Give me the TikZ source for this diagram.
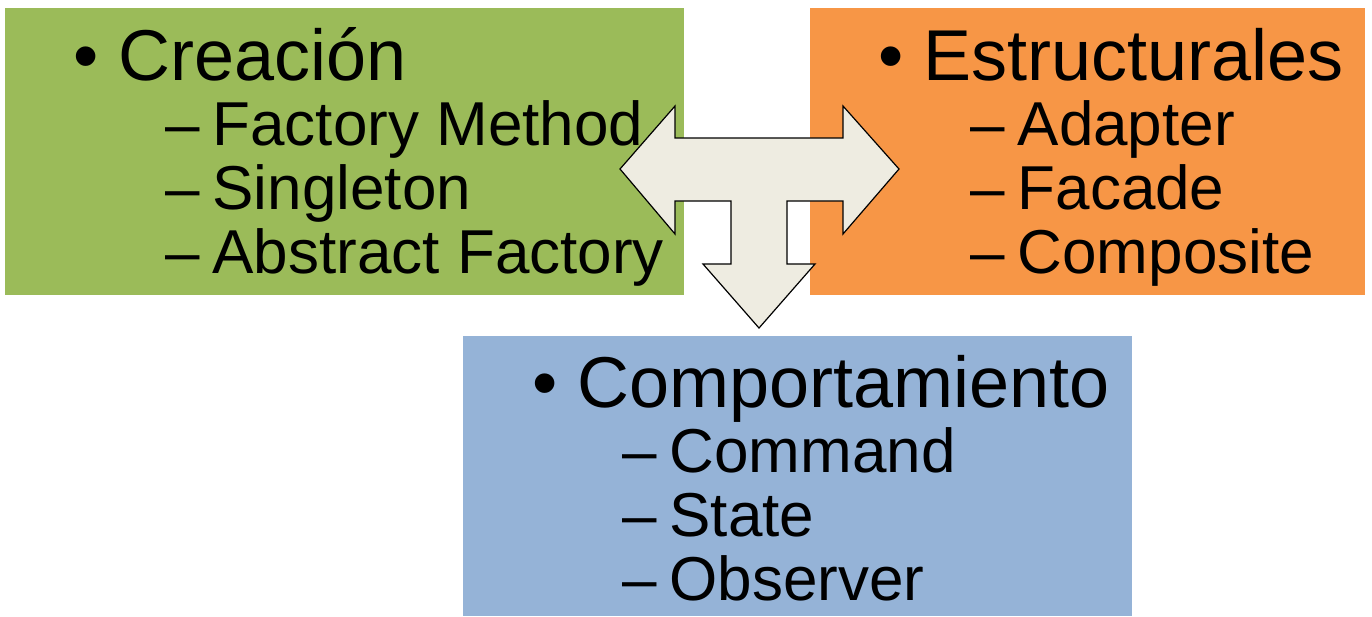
\documentclass[tikz,border=0pt]{standalone}
\usepackage{fontspec}
\setmainfont{Liberation Sans}
\definecolor{boxgreen}{HTML}{9BBB59}
\definecolor{boxorange}{HTML}{F79646}
\definecolor{boxblue}{HTML}{95B3D7}
\definecolor{arrowfill}{HTML}{EEECE1}
\newcommand{\subdash}{–\hspace{13pt}}
\begin{document}
\begin{tikzpicture}[x=1pt,y=-1pt,
  head/.style={anchor=base west,inner sep=0pt,font=\fontsize{72}{72}\selectfont},
  item/.style={anchor=base west,inner sep=0pt,font=\fontsize{62}{62}\selectfont}]
\useasboundingbox (0,0) rectangle (1372,616);
% category panels
\fill[boxgreen]  (5,8) rectangle (684,295);
\fill[boxorange] (810,8) rectangle (1365,295);
\fill[boxblue]   (463,336) rectangle (1132,616);
% creational patterns
\node[head] (cre)  at (73,80)  {• Creación};
\node[item] (cre1) at (165,145) {\subdash Factory Method};
\node[item] (cre2) at (165,209) {\subdash Singleton};
\node[item] (cre3) at (165,273) {\subdash Abstract Factory};
% structural patterns
\node[head] (est)  at (878,80)  {• Estructurales};
\node[item] (est1) at (970,145) {\subdash Adapter};
\node[item] (est2) at (970,209) {\subdash Facade};
\node[item] (est3) at (970,273) {\subdash Composite};
% behavioural patterns
\node[head] (com)  at (532,407) {• Comportamiento};
\node[item] (com1) at (622,472) {\subdash Command};
\node[item] (com2) at (622,536) {\subdash State};
\node[item] (com3) at (622,600) {\subdash Observer};
% three-way block arrow
\draw[fill=arrowfill,line width=1.2pt,line join=miter]
  (620,169) -- (675,106) -- (675,138) -- (843,138) -- (843,106) -- (899,169)
  -- (843,234) -- (843,201) -- (787,201) -- (787,264) -- (815,264)
  -- (759,328) -- (703,264) -- (731,264) -- (731,201) -- (675,201)
  -- (675,234) -- cycle;
\end{tikzpicture}
\end{document}
